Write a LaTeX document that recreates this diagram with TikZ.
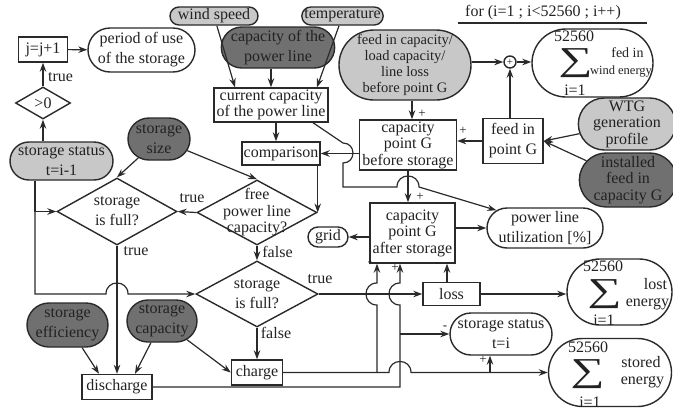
\documentclass[tikz,border=0pt]{standalone}
\usepackage{graphicx}
\usepackage{fontspec}
\setmainfont{Liberation Serif}
\usetikzlibrary{arrows.meta,shapes.geometric,shapes.misc}
\definecolor{edge}{HTML}{2A2A2A}
\definecolor{ink}{HTML}{222222}
\definecolor{lightfill}{HTML}{C8C8C8}
\definecolor{darkfill}{HTML}{707070}
\tikzset{
  nb/.style={draw=edge, line width=1.4pt, text=ink, align=center, inner sep=0pt,
    font=\fontsize{16}{16.5}\selectfont},
  sz/.style 2 args={minimum width=#1pt, minimum height=#2pt},
  bx/.style={nb, rectangle, fill=white},
  ov/.style={nb, rounded rectangle, fill=white},
  lov/.style={ov, fill=lightfill},
  dov/.style={ov, fill=darkfill},
  dec/.style={nb, diamond, fill=white},
  lnsp/.style={font=\fontsize{16}{20}\selectfont},
  ln/.style={draw=edge, line width=1.2pt},
  ar/.style={ln, -{Stealth[length=9pt,width=6.5pt]}},
  lb/.style={text=ink, inner sep=0pt, align=center, font=\fontsize{16}{16.5}\selectfont},
  sg/.style={text=ink, inner sep=0pt, font=\fontsize{13}{13}\selectfont},
  sm/.style={text=ink, inner sep=0pt, font=\fontsize{16}{16}\selectfont},
}
% large summation sign for the yearly totals
\newcommand{\bigsum}{\resizebox*{34pt}{29pt}{∑}}
\begin{document}
\begin{tikzpicture}[x=1pt,y=-1pt]
\useasboundingbox (0,0) rectangle (673,410);

% loop header
\node[lb] (title) at (543,13) {for (i=1 ; i<52560 ; i++)};
\coordinate (ulL) at (458,23);
\coordinate (ulR) at (647,23);
\draw[ln] (ulL) -- (ulR);

% storage period counter
\node[bx, sz={49}{25}] (jj) at (43,49.5) {j=j+1};
\node[ov, lnsp, sz={107}{44}] (period) at (141.5,50) {period of use\\of the storage};
\node[dec, sz={55}{32}] (gt0) at (43,103) {};
\node[lb] (gt0t) at (gt0) {>0};
\node[lov, lnsp, sz={103}{38}] (ss0) at (61.5,161) {storage status\\t=i-1};
\node[dov, lnsp, sz={62}{42}] (ssize) at (159,139) {storage\\size};

% decisions
\node[dec, sz={120}{67}] (full1) at (117,211.5) {};
\node[lb, lnsp] (full1t) at (full1) {storage\\is full?};
\node[dec, sz={120}{65}] (free) at (257,212.5) {};
\node[lb] (freet) at (free) {free\\power line\\capacity?};
\node[dec, sz={122}{66}] (full2) at (257,294) {};
\node[lb, lnsp] (full2t) at (full2) {storage\\is full?};

% storage parameters and actions
\node[dov, lnsp, sz={81}{44}] (seff) at (67.5,325) {storage\\efficiency};
\node[dov, lnsp, sz={70}{42}] (scap) at (162,321) {storage\\capacity};
\node[bx, sz={70}{25}] (dis) at (117,387) {discharge};
\node[bx, sz={51}{25}] (chg) at (257,372.5) {charge};

% power line inputs
\node[lov, sz={88}{18}] (wind) at (214,16) {wind speed};
\node[lov, sz={81}{18}] (temp) at (342.5,16) {temperature};
\node[dov, lnsp, sz={108}{41}] (plcap) at (278,47.5) {capacity of the\\power line};
\node[bx, sz={114}{34}] (curcap) at (271,105) {current capacity\\of the power line};
\node[bx, sz={78}{23}] (comp) at (281,153.5) {comparison};

% point G
\node[lov, sz={112}{70}, font=\fontsize{14.5}{16}\selectfont] (feedcap) at (405,65) {feed in capacity/\\load capacity/\\line loss\\before point G};
\node[nb, circle, minimum size=12pt, fill=white] (plus) at (510,62) {};
\node[sg, font=\fontsize{11}{11}\selectfont] (plust) at (plus) {+};
\node[bx, lnsp, sz={60}{45}] (fpg) at (513,141) {feed in\\point G};
\node[lov, sz={81}{52}] (wtg) at (627,124) {WTG\\generation\\profile};
\node[dov, sz={87}{54}] (inst) at (628,180) {installed\\feed in\\capacity G};
\node[bx, sz={97}{50}] (before) at (408,145) {capacity\\point G\\before storage};
\node[bx, sz={85}{60}] (after) at (412.5,233) {capacity\\point G\\after storage};
\node[ov, sz={40}{20}] (grid) at (328,237) {grid};
\node[ov, lnsp, sz={116}{40}] (util) at (545,228) {power line\\utilization [\%]};
\node[bx, sz={57}{23}] (loss) at (451.5,294) {loss};
\node[ov, lnsp, sz={102}{42}] (ss1) at (501,334) {storage status\\t=i};

% energy sums
\node[ov, sz={121}{68}] (fedsum) at (592.5,63) {};
\node[sm] (fedhi) at (574,36) {52560};
\node[sm] (fedsig) at (575.5,63) {\bigsum};
\node[sm] (fedlo) at (575,90) {i=1};
\node[sm, font=\fontsize{14}{14}\selectfont] (fedtx1) at (627.5,53) {fed in};
\node[sm, font=\fontsize{12.5}{12.5}\selectfont] (fedtx2) at (621,72) {wind energy};

\node[ov, sz={105}{66}] (lostsum) at (619.5,292) {};
\node[sm] (losthi) at (603,266) {52560};
\node[sm] (lostsig) at (604.5,294) {\bigsum};
\node[sm] (lostlo) at (604,320) {i=1};
\node[sm] (losttx1) at (655.5,284) {lost};
\node[sm] (losttx2) at (647.5,304) {energy};

\node[ov, sz={123}{68}] (storedsum) at (610,372.5) {};
\node[sm] (storedhi) at (588,347) {52560};
\node[sm] (storedsig) at (587.5,374) {\bigsum};
\node[sm] (storedlo) at (590,402) {i=1};
\node[sm] (storedtx1) at (641,362) {stored};
\node[sm] (storedtx2) at (642.5,382.5) {energy};

% counter loop
\draw[ar] (jj) -- (period);
\draw[ar] (gt0.north) -- (jj.south);
\draw[ar] (gt0.south |- ss0.north) -- (gt0.south);
\draw[ar] (35,0 |- ss0.south) -- (35,0 |- full1.west) -- (full1.west);
\draw[ar] (35,0 |- full1.west) -- (35,294) -- (106,294)
  .. controls (106,279.3) and (128,279.3) .. (128,294) -- (full2.west);

% decision flow
\draw[ar] (ssize) -- (full1.north);
\draw[ar] (ssize) -- (free.north);
\draw[ar] (free.west) -- (full1.east);
\draw[ar] (free.south) -- (full2.north);
\draw[ar] (full1.south) -- (dis.north);
\draw[ar] (full2.south) -- (chg.north);
\draw[ar] (seff) -- ([xshift=-18pt]dis.north);
\draw[ar] (scap) -- ([xshift=18pt]dis.north);
\draw[ar] (scap) -- (chg.west);

% power line capacity
\draw[ar] (wind) -- ([xshift=-36pt]curcap.north);
\draw[ar] (temp) -- ([xshift=46pt]curcap.north);
\draw[ar] (curcap.north |- plcap.south) -- (curcap.north);
\draw[ar] (276,0 |- curcap.south) -- (276,0 |- comp.north);
\draw[ar] (free.east |- comp.south) -- (free.east);
\draw[ar] (before.west |- comp.east) -- (comp.east);
\draw[ar] ([xshift=42pt]curcap.south) -- (343,143)
  .. controls (356.3,143) and (356.3,163) .. (343,163) -- (343,187) -- (397,187)
  .. controls (397,172.3) and (419,172.3) .. (419,187) -- (util.160);

% point G balance
\draw[ar] (412,0 |- feedcap.south) -- (412,0 |- before.north);
\draw[ar] (plus.west -| feedcap.east) -- (plus.west);
\draw[ar] (plus.east) -- (plus.east -| fedsum.west);
\draw[ar] (plus.south |- fpg.north) -- (plus.south);
\draw[ar] (fpg.west) -- (fpg.west -| before.east);
\draw[ar] (wtg) -- (fpg.east);
\draw[ar] (inst) -- (fpg.east);
\draw[ar] (before.south) -- (before.south |- after.north);
\draw[ar] (after.west |- grid.east) -- (grid.east);
\draw[ar] (util.west -| after.east) -- (util.west);

% losses, charge and discharge
\draw[ar] (full2.east) -- (loss.west);
\draw[ar] (447,0 |- loss.north) -- (447,0 |- after.south);
\draw[ar] (loss.east) -- (loss.east -| lostsum.west);
\draw[ar] (chg.east) -- (377,0 |- chg.east) -- (377,305)
  .. controls (362.3,305) and (362.3,283) .. (377,283) -- (377,0 |- after.south);
\draw[ar] (377,0 |- chg.east) -- (389,0 |- chg.east)
  .. controls (389,357.8) and (411,357.8) .. (411,372.5) -- (storedsum.west);
\draw[ar] (490,0 |- chg.east) -- (490,0 |- ss1.south);
\draw[ar] (dis.east) -- (400,0 |- dis.east) -- (400,305)
  .. controls (385.3,305) and (385.3,283) .. (400,283) -- (400,0 |- after.south);
\draw[ar] (400,0 |- ss1.west) -- (ss1.west);

% branch labels
\node[lb] (lt1) at (60.5,77) {true};
\node[lb] (lt2) at (192,198) {true};
\node[lb] (lt3) at (136,251) {true};
\node[lb] (lf1) at (277.5,252) {false};
\node[lb] (lt4) at (320,279) {true};
\node[lb] (lf2) at (276,333) {false};

% signs
\node[sg] (s1) at (422,114) {+};
\node[sg] (s2) at (463,131) {+};
\node[sg] (s3) at (420,197) {+};
\node[sg] (s4) at (370,264) {-};
\node[sg] (s5) at (395,268) {+};
\node[sg] (s6) at (437,265) {-};
\node[sg] (s7) at (445,328) {-};
\node[sg] (s8) at (483,360) {+};
\end{tikzpicture}
\end{document}
